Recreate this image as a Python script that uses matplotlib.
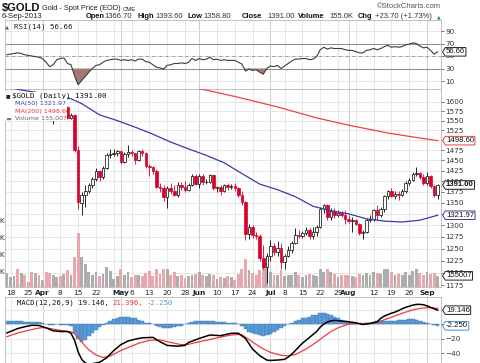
import numpy as np
import pandas as pd
import matplotlib
matplotlib.use("Agg")
import matplotlib.pyplot as plt
from matplotlib.transforms import blended_transform_factory as blend
from matplotlib.ticker import FixedLocator, NullLocator, FixedFormatter
from matplotlib.patches import Rectangle
from matplotlib.path import Path

# ---------------- data ----------------
start_date = "2013-03-15"
end_date = "2013-09-06"
holidays = ["2013-03-29", "2013-05-27", "2013-07-04", "2013-09-02"]

opens = [1590, 1592, 1604, 1612, 1608, 1614, 1607, 1604, 1596, 1606,
         1596, 1600, 1576, 1554, 1556, 1581, 1575, 1586, 1558, 1564, 1476, 1350, 1368, 1378, 1392, 1405, 1423, 1409, 1432, 1463, 1466, 1468,
         1472, 1446, 1466, 1470, 1467, 1450, 1473, 1468, 1437, 1434, 1425, 1387, 1385, 1364, 1383, 1378, 1368, 1391, 1386, 1379, 1391, 1413,
         1393, 1412, 1397, 1398, 1414, 1383, 1386, 1378, 1390, 1387, 1388, 1383, 1367, 1351, 1280, 1297, 1279, 1277, 1231, 1212,
         1234, 1255, 1243, 1251, 1223, 1235, 1246, 1262, 1278, 1277, 1283, 1290, 1277, 1285, 1296, 1335, 1345, 1318, 1332, 1322, 1327, 1323,
         1313, 1309, 1311, 1302, 1282, 1285, 1311, 1313, 1334, 1322, 1336, 1365, 1376, 1365, 1371, 1368, 1377, 1396, 1403, 1418, 1419, 1410,
         1396, 1411, 1389, 1366.7]
highs = [1597, 1612, 1614, 1616, 1618, 1616, 1610, 1606, 1608, 1608,
         1603, 1604, 1578, 1560, 1585, 1583, 1590, 1588, 1570, 1566, 1484, 1375, 1392, 1396, 1410, 1432, 1426, 1436, 1468, 1477, 1478, 1476,
         1474, 1470, 1488, 1475, 1468, 1475, 1478, 1470, 1441, 1437, 1428, 1396, 1390, 1388, 1396, 1392, 1397, 1397, 1401, 1395, 1418, 1418,
         1416, 1416, 1406, 1418, 1417, 1389, 1392, 1394, 1396, 1393, 1395, 1387, 1377, 1353, 1302, 1300, 1285, 1281, 1258, 1240,
         1267, 1261, 1266, 1262, 1239, 1255, 1266, 1294, 1290, 1288, 1296, 1294, 1297, 1300, 1340, 1348, 1347, 1338, 1339, 1334, 1331, 1334,
         1323, 1317, 1314, 1305, 1290, 1316, 1323, 1336, 1346, 1340, 1368, 1380, 1384, 1376, 1376, 1382, 1400, 1407, 1421, 1434, 1421, 1416,
         1421, 1414, 1391, 1393.6]
lows = [1585, 1590, 1600, 1602, 1605, 1600, 1595, 1591, 1594, 1590,
        1593, 1573, 1548, 1540, 1553, 1570, 1573, 1554, 1555, 1470, 1335, 1322, 1340, 1372, 1385, 1400, 1400, 1405, 1430, 1455, 1460, 1460,
        1442, 1443, 1458, 1460, 1440, 1448, 1460, 1431, 1412, 1417, 1383, 1375, 1355, 1338, 1370, 1365, 1362, 1380, 1375, 1376, 1388, 1390,
        1383, 1391, 1394, 1396, 1380, 1375, 1367, 1375, 1380, 1381, 1378, 1362, 1346, 1268, 1270, 1272, 1270, 1225, 1208, 1180,
        1225, 1236, 1234, 1208, 1207, 1233, 1240, 1260, 1273, 1272, 1279, 1271, 1270, 1276, 1293, 1327, 1312, 1311, 1315, 1318, 1317, 1302,
        1304, 1285, 1300, 1278, 1270, 1283, 1307, 1310, 1311, 1318, 1330, 1358, 1362, 1358, 1357, 1365, 1372, 1390, 1400, 1412, 1404, 1391,
        1392, 1384, 1362, 1358.8]
closes = [1592, 1604, 1612, 1608, 1614, 1607, 1604, 1596, 1606, 1596,
          1600, 1576, 1554, 1556, 1581, 1575, 1586, 1558, 1564, 1476, 1352, 1368, 1378, 1392, 1405, 1423, 1409, 1432, 1463, 1466, 1468, 1472,
          1446, 1466, 1470, 1467, 1450, 1473, 1468, 1437, 1434, 1425, 1387, 1385, 1364, 1383, 1378, 1368, 1391, 1386, 1379, 1391, 1413, 1393,
          1412, 1397, 1398, 1414, 1383, 1386, 1378, 1390, 1387, 1388, 1383, 1367, 1351, 1280, 1297, 1279, 1277, 1231, 1212, 1234,
          1255, 1243, 1251, 1223, 1235, 1246, 1262, 1278, 1277, 1283, 1290, 1277, 1285, 1296, 1335, 1345, 1318, 1332, 1322, 1327, 1323, 1313,
          1309, 1311, 1302, 1282, 1285, 1311, 1313, 1334, 1322, 1336, 1365, 1376, 1365, 1371, 1368, 1377, 1396, 1403, 1418, 1419, 1410, 1396,
          1411, 1389, 1367, 1391.0]
volume_k = [190, 140, 150, 235, 190, 170, 80, 200, 190, 170,
            110, 200, 190, 170, 140, 150, 180, 220, 170, 380, 660, 380, 290, 200, 170, 200, 150, 180, 260, 210, 120, 150,
            230, 160, 200, 140, 170, 160, 150, 190, 210, 150, 230, 180, 240, 230, 170, 200, 150, 160, 130, 150, 170, 180,
            200, 160, 150, 180, 170, 120, 140, 130, 150, 140, 110, 180, 240, 350, 220, 190, 160, 220, 340, 300,
            200, 170, 160, 220, 150, 160, 170, 200, 160, 140, 160, 180, 160, 150, 240, 200, 230, 200, 180, 140, 160, 170,
            160, 150, 140, 180, 160, 190, 160, 200, 190, 180, 240, 230, 200, 170, 180, 160, 200, 170, 210, 230, 190, 170,
            200, 180, 190, 155.007]
rsi = [52, 53, 54, 55, 54, 52, 51, 50, 49, 48,
       46, 40, 33, 36, 44, 46, 47, 38, 36, 18, 4, 11, 17, 24, 30, 35, 36, 40, 43, 44, 45, 45,
       43, 44, 43, 44, 42, 45, 45, 41, 40, 36, 32, 31, 29, 35, 36, 38, 38, 39, 38, 40, 46, 43,
       46, 44, 45, 48, 44, 45, 43, 44, 43, 43, 43, 40, 37, 26, 29, 27, 28, 24, 21, 30,
       34, 33, 35, 30, 34, 38, 42, 45, 45, 46, 46, 44, 45, 49, 60, 64, 61, 63, 62, 62, 62, 60,
       59, 59, 57, 55, 55, 59, 60, 62, 60, 62, 65, 67, 64, 65, 64, 65, 68, 69, 71, 70, 66, 63,
       64, 59, 53, 56.66]
macd_hist = [4, 4, 4, 4, 4, 3.5, 3.5, 3, 3, 2.5,
             1, 0, -1, -1, 0, -0.5, -0.5, -1, -2, -12, -20, -24, -22, -16, -12, -8, -4, -1, 2, 5, 7, 9,
             10, 10, 10, 9, 8, 6, 4, 2, 1, 0, -2, -4, -5, -5, -5, -4, -3, -2, 0, 2, 3, 4,
             4, 4, 5, 5, 4, 3, 3, 3, 2, 2, 1, 0, -3, -7, -10, -12, -14, -15, -16, -15,
             -13, -11, -8, -5, -2, 0, 2, 4, 6, 8, 9, 10, 12, 13, 15, 15, 14, 12, 10, 8, 6, 4,
             3, 2, 1, 0, 0, 1, 2, 3, 4, 5, 5, 5, 5, 5, 6, 6, 6, 6.5, 6.5, 5.5, 4, 2.5,
             1.5, 0.5, -1, -2.25]

ma50_day = [-1, 3, 8, 13, 17, 20, 25, 30, 35, 40, 45, 50, 55, 60, 65, 70, 75, 80, 85, 90, 95, 100, 105, 110, 115, 120]
ma50_val = [1640, 1632, 1624, 1615, 1608, 1595, 1565, 1550, 1533, 1515, 1495, 1478, 1462, 1444, 1418, 1393, 1380, 1364, 1342, 1332,
            1325, 1314, 1309, 1307, 1311, 1321.97]
ma200_day = [-1, 20, 40, 52, 64, 75, 86, 95, 106, 113, 120]
ma200_val = [1668, 1662, 1650, 1638, 1612, 1586, 1557, 1538, 1518, 1508, 1498.60]

macd_day = [-1, 2, 4, 6, 8, 10, 12, 14, 16, 17, 18, 19, 20, 21, 22, 23, 25, 27, 29, 31, 33, 35, 37, 40, 42, 44, 47, 49, 50,
            53, 56, 59, 62, 64, 66, 68, 70, 72, 73, 75, 77, 78, 79, 80, 81, 82, 83, 84, 85, 86, 87, 88, 89, 90, 91, 93, 95, 97,
            99, 101, 103, 104, 105, 106, 107, 108, 109, 110, 111, 112, 113, 114, 115, 116, 117, 118, 119, 120]
macd_val = [-12, -6, -3.5, -1.5, -1.8, -5, -9, -10, -10, -12.5, -22, -38, -48, -53, -54.5, -54, -52, -46, -36, -28, -23, -20.5,
            -18.6, -18, -24, -29, -30, -29, -25, -19.5, -14.8, -15.7, -12.4, -12.4, -19.5, -34, -43, -49, -49.5, -49, -48, -45,
            -41, -36, -31, -26, -22, -18, -14, -10, -4, 0, 3, 4.5, 5.2, 4.3, 3.3, 1.9, -0.5, 1, 3.3, 8, 11, 13, 15, 16.5, 18.5,
            21, 23, 24.5, 26, 27, 27, 26.5, 25, 23, 21, 19.146]
signal_day = [-1, 2, 5, 7, 9, 11, 14, 17, 18, 19, 20, 21, 22, 24, 26, 28, 31, 34, 36, 39, 42, 45, 48, 50, 53, 56, 59, 62,
              64, 65, 67, 70, 73, 76, 78, 80, 83, 86, 88, 90, 92, 94, 95, 98, 101, 103, 105, 107, 109, 111, 113, 115, 117,
              118, 119, 120]
signal_val = [-17, -12, -8.5, -6.2, -4.5, -5.8, -8.5, -10.5, -13, -18, -24, -30, -35, -42, -45.5, -43.5, -36, -30, -26,
              -22, -21.5, -25, -28, -27.5, -24, -21, -17.6, -14.8, -14, -14.5, -21, -31, -38.6, -42.4, -43.3, -41.5, -34,
              -24.3, -17, -10, -5, -1.5, 0, 1, 1, 2.5, 6, 9.5, 13, 16.5, 19.5, 21.5, 22.5, 22.5, 22, 21.396]

tick_dates = ["2013-03-18", "2013-03-25", "2013-04-01", "2013-04-08", "2013-04-15", "2013-04-22", "2013-05-01",
              "2013-05-06", "2013-05-13", "2013-05-20", "2013-05-28", "2013-06-03", "2013-06-10", "2013-06-17",
              "2013-06-24", "2013-07-01", "2013-07-08", "2013-07-15", "2013-07-22", "2013-07-29", "2013-08-01",
              "2013-08-12", "2013-08-19", "2013-08-26", "2013-09-03"]
tick_labels = ["18", "25", "Apr", "8", "15", "22", "May", "6", "13", "20", "28", "Jun", "10", "17", "24", "Jul",
               "8", "15", "22", "29", "Aug", "12", "19", "26", "Sep"]
extra_grid_dates = ["2013-04-29", "2013-08-05"]
price_ticks = [1175, 1200, 1225, 1250, 1275, 1300, 1325, 1350, 1375, 1400, 1425, 1450, 1475, 1500,
               1525, 1550, 1575, 1600]
rsi_ticks = [90, 70, 50, 30, 10]
macd_ticks = [20, 0, -20, -40]
vol_label_k = [800, 600, 400, 200]

# ---------------- geometry ----------------
W, H = 480, 363
fig = plt.figure(figsize=(W / 100, H / 100), dpi=100)
fig.patch.set_facecolor("white")


def rect(l, t, r, b):
    return [l / W, 1 - b / H, (r - l) / W, (b - t) / H]


def ptext(x, y, s, **kw):
    kw.setdefault("va", "center")
    kw.setdefault("ha", "left")
    kw.setdefault("zorder", 20)
    return fig.text(x / W, 1 - y / H, s, **kw)


XL, XR = 5, 441
X0_PX, DX_PX = 10.5, 3.56
xlim = ((XL - X0_PX) / DX_PX, (XR - X0_PX) / DX_PX)

days = pd.bdate_range(start_date, end_date)
days = days[~days.isin(pd.to_datetime(holidays))]
x = np.arange(len(days)) - 1
pos = {d.strftime("%Y-%m-%d"): i for d, i in zip(days, x)}
for name, arr in [("o", opens), ("h", highs), ("l", lows), ("c", closes), ("v", volume_k), ("r", rsi), ("hist", macd_hist)]:
    assert len(arr) == len(x), (name, len(arr), len(x))

o = np.array(opens, float)
h = np.array(highs, float)
l = np.array(lows, float)
c = np.array(closes, float)
vol = np.array(volume_k, float)
r = np.array(rsi, float)
hist = np.array(macd_hist, float)

RED = "#d6002b"
GRID = "#e3e3e3"
MGRID = "#c6c6c6"
SPINE = "#b8b8b8"
LBL = "#333333"
MONO = "DejaVu Sans Mono"
SANS = "Liberation Sans"

ax_rsi = fig.add_axes(rect(XL, 20, XR, 89))
ax_vol = fig.add_axes(rect(XL, 89, XR, 287))
ax_main = fig.add_axes(rect(XL, 89, XR, 287))
ax_macd = fig.add_axes(rect(XL, 297, XR, 366))
ax_vol.set_zorder(1)
ax_main.set_zorder(2)
ax_main.patch.set_visible(False)

for ax in (ax_rsi, ax_vol, ax_main, ax_macd):
    ax.set_xlim(*xlim)
    for s in ax.spines.values():
        s.set_color(SPINE)
        s.set_linewidth(0.6)
    ax.tick_params(axis="x", length=0, labelbottom=False)
for s in ax_vol.spines.values():
    s.set_visible(False)
ax_vol.set_yticks([])

# vertical grid
grid_pos = [pos[d] for d in tick_dates] + [pos[d] for d in extra_grid_dates]
month_pos = [pos[d] for d, t in zip(tick_dates, tick_labels) if t.isalpha()]
for ax in (ax_rsi, ax_vol, ax_macd):
    for gp in grid_pos:
        ax.axvline(gp, color=MGRID if gp in month_pos else GRID, lw=0.6, zorder=0)

# ---------------- RSI ----------------
ax_rsi.set_ylim(-2.8, 107.6)
for lv in (90, 10):
    ax_rsi.axhline(lv, color=GRID, lw=0.6, zorder=0)
for lv in (70, 30):
    ax_rsi.axhline(lv, color="#8a8a8a", lw=0.7, zorder=1)
ax_rsi.axhline(50, color="#8a8a8a", lw=0.6, dashes=(4, 1.5, 1, 1.5), zorder=1)
ax_rsi.fill_between(x, r, 30, where=r < 30, interpolate=True, color="#a47a70", lw=0, zorder=2)
ax_rsi.fill_between(x, r, 70, where=r > 70, interpolate=True, color="#a47a70", lw=0, zorder=2)
ax_rsi.plot(x, r, color="#3c3c3c", lw=0.8, zorder=3)
ax_rsi.yaxis.tick_right()
ax_rsi.set_yticks(rsi_ticks)
ax_rsi.tick_params(axis="y", length=2, pad=1, labelsize=5.2, colors=LBL, width=0.5)

# ---------------- price / volume ----------------
prev_close = np.r_[o[0], c[:-1]]
up = c >= prev_close
vcol = np.where(up, "#adadad", "#e9a6ad")
ax_vol.bar(x, vol, width=0.8, color=vcol, lw=0, zorder=2)
ax_vol.set_ylim(23.5, 2353)

ax_main.set_yscale("log")
ax_main.set_ylim(1171.7, 1634.6)
tr_grid = blend(ax_vol.transAxes, ax_main.transData)
for p in price_ticks:
    ax_vol.plot([0, 1], [p, p], transform=tr_grid, color=GRID, lw=0.6, zorder=0)

col = np.where(up, "black", RED)
hollow = c > o
face = np.where(hollow, "white", col)
ax_main.vlines(x, l, h, colors=col, lw=0.6, zorder=3)
ax_main.bar(x, np.abs(c - o), bottom=np.minimum(o, c), width=0.7, color=face, edgecolor=col, lw=0.5, zorder=4)
ax_main.plot(ma50_day, ma50_val, color="#3b3ba6", lw=0.9, zorder=5)
ax_main.plot(ma200_day, ma200_val, color="#f04040", lw=0.9, zorder=5)

ax_main.yaxis.tick_right()
ax_main.yaxis.set_major_locator(FixedLocator(price_ticks))
ax_main.yaxis.set_major_formatter(FixedFormatter([str(p) for p in price_ticks]))
ax_main.yaxis.set_minor_locator(NullLocator())
ax_main.tick_params(axis="y", length=2, pad=1, labelsize=5.2, colors=LBL, width=0.5)
ax_main.set_xticks([pos[d] for d in tick_dates])
ax_main.set_xticklabels(tick_labels)
ax_main.tick_params(axis="x", length=0, pad=2.2, labelsize=5.3, labelbottom=True, colors="#222222")
for t in ax_main.get_xticklabels():
    if t.get_text().isalpha():
        t.set_fontweight("bold")

# legend block (white box hiding the earliest candles)
fig.patches.append(Rectangle((XL / W, 1 - 121 / H), (67 - XL) / W, (121 - 92) / H,
                             transform=fig.transFigure, facecolor="white", edgecolor="none", zorder=15))
ptext(6, 96, "\u25a0", fontsize=3.5, color="#222222")
ptext(12, 96, "$GOLD (Daily) 1391.00", fontsize=5.4, family=MONO, color="#111111")
fig.lines.append(plt.Line2D([5 / W, 14 / W], [1 - 104 / H] * 2, color="#3b3ba6", lw=1.2, zorder=20))
ptext(15, 104, "MA(50) 1321.97", fontsize=4.6, family="DejaVu Sans", color="#3b3ba6")
fig.lines.append(plt.Line2D([5 / W, 14 / W], [1 - 111 / H] * 2, color="#f04040", lw=1.2, zorder=20))
ptext(15, 111, "MA(200) 1498.60", fontsize=4.6, family="DejaVu Sans", color="#e83030")
ptext(6, 118, "\u2583", fontsize=4, color="#777777")
ptext(15, 118, "Volume 155,007", fontsize=4.6, family="DejaVu Sans", color="#666666")

# volume axis labels (mostly clipped at figure edge, as in the source)
tr_vlab = blend(fig.transFigure, ax_vol.transData)
for v in vol_label_k:
    fig.text(5.5 / W, v, f"{v}K", transform=tr_vlab, ha="right", va="center", fontsize=5.2, color=LBL)

# ---------------- MACD ----------------
ax_macd.set_ylim(-57.1, 37.1)
for lv in macd_ticks:
    ax_macd.axhline(lv, color=GRID, lw=0.6, zorder=0)
ax_macd.bar(x, hist, width=1.0, color="#5b9bd5", edgecolor="#3a78b5", lw=0.3, zorder=2)
ax_macd.plot(signal_day, signal_val, color="#f03a3a", lw=0.9, zorder=3)
ax_macd.plot(macd_day, macd_val, color="black", lw=1.1, zorder=4)
ax_macd.yaxis.tick_right()
ax_macd.set_yticks(macd_ticks)
ax_macd.tick_params(axis="y", length=2, pad=1, labelsize=5.2, colors=LBL, width=0.5)


# ---------------- value tags (pointed on the left) ----------------
def tag_shape(x0, y0, width, height, mutation_size):
    pad = 0.1 * mutation_size
    x0, y0 = x0 - pad, y0 - pad
    width, height = width + 2 * pad, height + 2 * pad
    tip = 0.3 * height
    verts = [(x0 - tip, y0 + height / 2), (x0, y0), (x0 + width, y0), (x0 + width, y0 + height),
             (x0, y0 + height), (x0 - tip, y0 + height / 2)]
    return Path(verts, closed=True)


def tag(ax, yval, s, ec, ytrans=None, bold=False):
    tr = blend(ax.transAxes, (ytrans or ax.transData))
    ax.annotate(s, xy=(1, yval), xycoords=tr, xytext=(5, 0), textcoords="offset pixels",
                ha="left", va="center", fontsize=5.6, family=SANS, color="#111111",
                fontweight="bold" if bold else "normal", annotation_clip=False, zorder=10,
                bbox=dict(boxstyle=tag_shape, fc="white", ec=ec, lw=0.7))


tag(ax_rsi, rsi[-1], f"{rsi[-1]:.2f}", "#222222")
tag(ax_main, ma200_val[-1], f"{ma200_val[-1]:.2f}", "#f04040")
tag(ax_main, closes[-1], f"{closes[-1]:.2f}", "#222222", bold=True)
tag(ax_main, ma50_val[-1], f"{ma50_val[-1]:.2f}", "#3b3ba6")
tag(ax_main, volume_k[-1], "155007", "#222222", ytrans=ax_vol.transData)
tag(ax_macd, macd_val[-1], f"{macd_val[-1]:.3f}", "#222222")
tag(ax_macd, macd_hist[-1], f"{macd_hist[-1]:.3f}", "#4a90c8")

# ---------------- header & legends ----------------
ptext(2, 8.5, "$GOLD", fontsize=8, fontweight="bold", family=SANS, color="#111111")
ptext(42, 9, "Gold - Spot Price (EOD)", fontsize=5.3, family=SANS, color="#222222")
ptext(123, 9.5, "CME", fontsize=4.3, family=SANS, color="#222222")
ptext(377, 7, "\u00a9StockCharts.com", fontsize=5.5, family=SANS, color="#555555")
ptext(2, 16.5, "6-Sep-2013", fontsize=5.6, family=SANS, color="#222222")
line2 = [(86, "Open", True), (104, "1366.70", False), (137, "High", True), (155, "1393.60", False),
         (188, "Low", True), (203, "1358.80", False), (242, "Close", True), (267, "1391.00", False),
         (298, "Volume", True), (329, "155.0K", False), (358, "Chg", True), (375, "+23.70 (+1.73%)", False)]
for xp, s, b in line2:
    ptext(xp, 16.5, s, fontsize=5.4 if b else 5.5, family=SANS, fontweight="bold" if b else "normal",
          color="#111111" if b else "#333333")
ptext(437, 16.5, "\u25b2", fontsize=3.5, color="#2a9a2a")

ptext(5, 27, "\u25b2", fontsize=3.8, color="#2f8f2f")
ptext(14, 27, "RSI(14) 56.66", fontsize=5.4, family=MONO, color="#222222")

fig.lines.append(plt.Line2D([7 / W, 14 / W], [1 - 303 / H] * 2, color="black", lw=1.2, zorder=20))
fig.canvas.draw()
rend = fig.canvas.get_renderer()
xp = 17
for s, colr in [("MACD(12,26,9) 19.146,", "#111111"), ("21.396,", "#e83030"), ("-2.250", "#4a9fd8")]:
    t = ptext(xp, 303, s, fontsize=5.2, family=MONO, color=colr)
    bb = t.get_window_extent(rend)
    xp = bb.x1 + 3.5

fig.savefig("out.png", dpi=100)
